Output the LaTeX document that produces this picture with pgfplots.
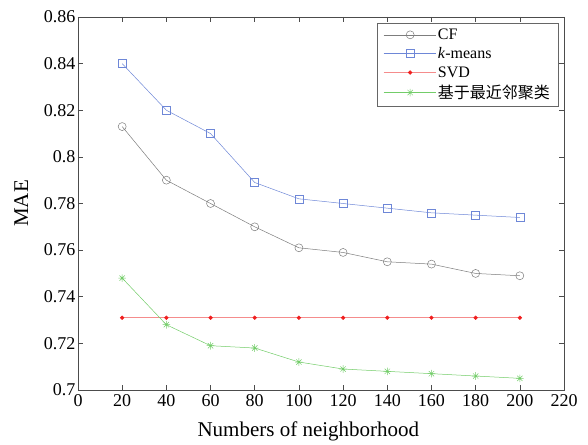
\documentclass[border=0pt]{standalone}
\usepackage{fontspec}
\setmainfont{Liberation Serif}
\newfontfamily\cjk{Noto Sans CJK SC}
\usepackage{pgfplots}
\pgfplotsset{compat=1.18}
\definecolor{cfgray}{RGB}{125,125,125}
\definecolor{kblue}{RGB}{110,135,215}
\definecolor{svdred}{RGB}{240,30,30}
\definecolor{svdline}{RGB}{245,140,140}
\definecolor{ggreen}{RGB}{115,205,105}
\pgfdeclareplotmark{matstar}{%
  \pgfpathmoveto{\pgfqpoint{-\pgfplotmarksize}{0pt}}\pgfpathlineto{\pgfqpoint{\pgfplotmarksize}{0pt}}%
  \pgfpathmoveto{\pgfqpoint{0pt}{-\pgfplotmarksize}}\pgfpathlineto{\pgfqpoint{0pt}{\pgfplotmarksize}}%
  \pgfpathmoveto{\pgfqpoint{-0.7\pgfplotmarksize}{-0.7\pgfplotmarksize}}\pgfpathlineto{\pgfqpoint{0.7\pgfplotmarksize}{0.7\pgfplotmarksize}}%
  \pgfpathmoveto{\pgfqpoint{-0.7\pgfplotmarksize}{0.7\pgfplotmarksize}}\pgfpathlineto{\pgfqpoint{0.7\pgfplotmarksize}{-0.7\pgfplotmarksize}}%
  \pgfusepathqstroke}
\begin{document}
\begin{tikzpicture}
\begin{axis}[
  scale only axis,
  width=486pt, height=373pt,
  xmin=0, xmax=220, ymin=0.7, ymax=0.86,
  xtick={0,20,...,220},
  ytick={0.7,0.72,0.74,0.76,0.78,0.8,0.82,0.84,0.86},
  yticklabels={0.7,0.72,0.74,0.76,0.78,0.8,0.82,0.84,0.86},
  /pgf/number format/assume math mode=true,
  tick align=inside,
  tick style={gray!60!black, line width=0.5pt},
  major tick length=5pt,
  axis line style={gray!60!black, line width=0.6pt},
  ticklabel style={font=\fontsize{18}{21}\selectfont},
  yticklabel style={xshift=1pt},
  xticklabel style={yshift=-1pt},
  xlabel={Numbers of neighborhood},
  ylabel={MAE},
  label style={font=\fontsize{21}{24}\selectfont},
  xlabel style={at={(axis description cs:0.474,-0.126)}, anchor=base},
  ylabel style={at={(axis description cs:-0.117,0.5)}, anchor=center},
  legend style={at={(0.988,0.985)}, anchor=north east, draw=gray!80!black,
    font=\fontsize{16}{18}\selectfont, row sep=2.5pt, inner xsep=6pt, inner ysep=4pt,
    nodes={inner sep=2pt}},
  legend cell align=left,
  legend image code/.code={
    \path (0pt,0pt) -- (52pt,0pt);
    \draw[#1] (8pt,0pt) -- (45pt,0pt);
    \draw[#1, only marks] plot coordinates {(26.5pt,0pt)};
  },
]
\addplot[cfgray, line width=0.5pt, mark=o, mark size=4pt, mark options={fill=none}] coordinates {
(20,0.813) (40,0.790) (60,0.780) (80,0.770) (100,0.761) (120,0.759) (140,0.755) (160,0.754) (180,0.750) (200,0.749)};
\addlegendentry{CF}
\addplot[kblue, line width=0.5pt, mark=square, mark size=4pt] coordinates {
(20,0.840) (40,0.820) (60,0.810) (80,0.789) (100,0.782) (120,0.780) (140,0.778) (160,0.776) (180,0.775) (200,0.774)};
\addlegendentry{\textit{k}-means}
\addplot[svdline, line width=0.6pt, mark=*, mark size=1.8pt, mark options={svdred, fill=svdred}] coordinates {
(20,0.731) (40,0.731) (60,0.731) (80,0.731) (100,0.731) (120,0.731) (140,0.731) (160,0.731) (180,0.731) (200,0.731)};
\addlegendentry{SVD}
\addplot[ggreen, line width=0.5pt, mark=matstar, mark size=3.8pt] coordinates {
(20,0.748) (40,0.728) (60,0.719) (80,0.718) (100,0.712) (120,0.709) (140,0.708) (160,0.707) (180,0.706) (200,0.705)};
\addlegendentry{\cjk 基于最近邻聚类\hspace{6pt}}
\end{axis}
\path ([xshift=-78pt,yshift=-54pt]current axis.south west) rectangle ([xshift=24pt,yshift=17pt]current axis.north east);
\end{tikzpicture}
\end{document}
